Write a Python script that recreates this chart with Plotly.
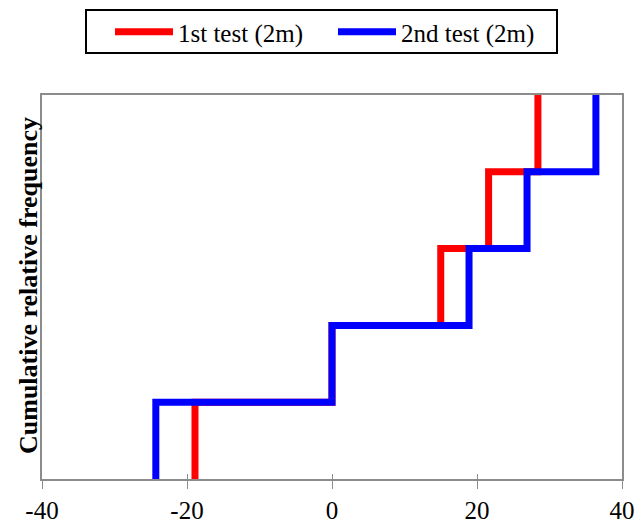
import plotly.graph_objects as go

# Data
levels = [0.0, 0.2, 0.4, 0.6, 0.8, 1.0]
test1_x = [-18.9, 0.0, 15.0, 21.6, 28.4]
test2_x = [-24.3, 0.0, 18.9, 26.9, 36.4]
series_names = ["1st test (2m)", "2nd test (2m)"]
x_tickvals = [-40, -20, 0, 20, 40]
x_ticktext = ["-40", "-20", "0", "20", "40"]
y_title = "Cumulative relative frequency"

FONT = "Liberation Serif, Times New Roman, serif"
GRAY = "#8c8c8c"
W, H = 636, 527

def step_xy(xs):
    # empirical CDF steps: vertical then horizontal
    x = list(xs) + [xs[-1]]
    y = list(levels)
    return x, y

fig = go.Figure()
for name, xs, col in [(series_names[0], test1_x, "#ff0000"),
                      (series_names[1], test2_x, "#0000ff")]:
    x, y = step_xy(xs)
    fig.add_trace(go.Scatter(x=x, y=y, mode="lines", name=name,
                             line=dict(color=col, width=7, shape="vh")))

# invisible trace for overlay axis (inside ticks to mimic crossing marks)
fig.add_trace(go.Scatter(x=[x_tickvals[0]], y=[0], xaxis="x2", mode="markers",
                         marker=dict(opacity=0), showlegend=False, hoverinfo="skip"))

# paper coords: plot area x 42..622 px, y 95..479 px
def px_x(p):
    return (p - 42) / 580.0

def px_y(p):
    return (479 - p) / 384.0

fig.add_shape(type="rect", xref="paper", yref="paper",
              x0=px_x(86), x1=px_x(557), y0=px_y(53), y1=px_y(10),
              line=dict(color="black", width=2), fillcolor="rgba(0,0,0,0)")

fig.add_annotation(text="<b>" + y_title + "</b>", xref="paper", yref="paper",
                   x=px_x(28), y=px_y(286), xanchor="center", yanchor="middle",
                   textangle=-90, showarrow=False,
                   font=dict(family=FONT, size=26, color="black"))

fig.update_layout(
    width=W, height=H,
    margin=dict(l=42, r=14, t=95, b=48),
    paper_bgcolor="white", plot_bgcolor="white",
    font=dict(family=FONT, size=25, color="black"),
    showlegend=True,
    legend=dict(orientation="h", xref="container", yref="container",
                x=110 / W, y=1 - 32 / H, xanchor="left", yanchor="middle",
                borderwidth=0, bgcolor="rgba(0,0,0,0)", font=dict(family=FONT, size=25),
                itemwidth=58, entrywidth=150, entrywidthmode="pixels",
                traceorder="normal"),
    xaxis=dict(range=[-40, 40], tickvals=x_tickvals, ticktext=x_ticktext,
               showgrid=False, zeroline=False, showline=True, linecolor=GRAY,
               linewidth=2, mirror=True, ticks="outside", ticklen=8, tickwidth=1,
               tickcolor=GRAY, tickfont=dict(family=FONT, size=25), automargin=False),
    xaxis2=dict(range=[-40, 40], tickvals=x_tickvals, showticklabels=False,
                overlaying="x", side="bottom", showgrid=False, zeroline=False,
                showline=False, ticks="inside", ticklen=5, tickwidth=1, tickcolor=GRAY,
                automargin=False),
    yaxis=dict(range=[0, 1], showticklabels=False, ticks="", showgrid=False,
               zeroline=False, showline=True, linecolor=GRAY, linewidth=2, mirror=True,
               automargin=False),
)

fig.write_html("out.html", config={"displayModeBar": False},
               post_script="document.body.style.margin='0';")
